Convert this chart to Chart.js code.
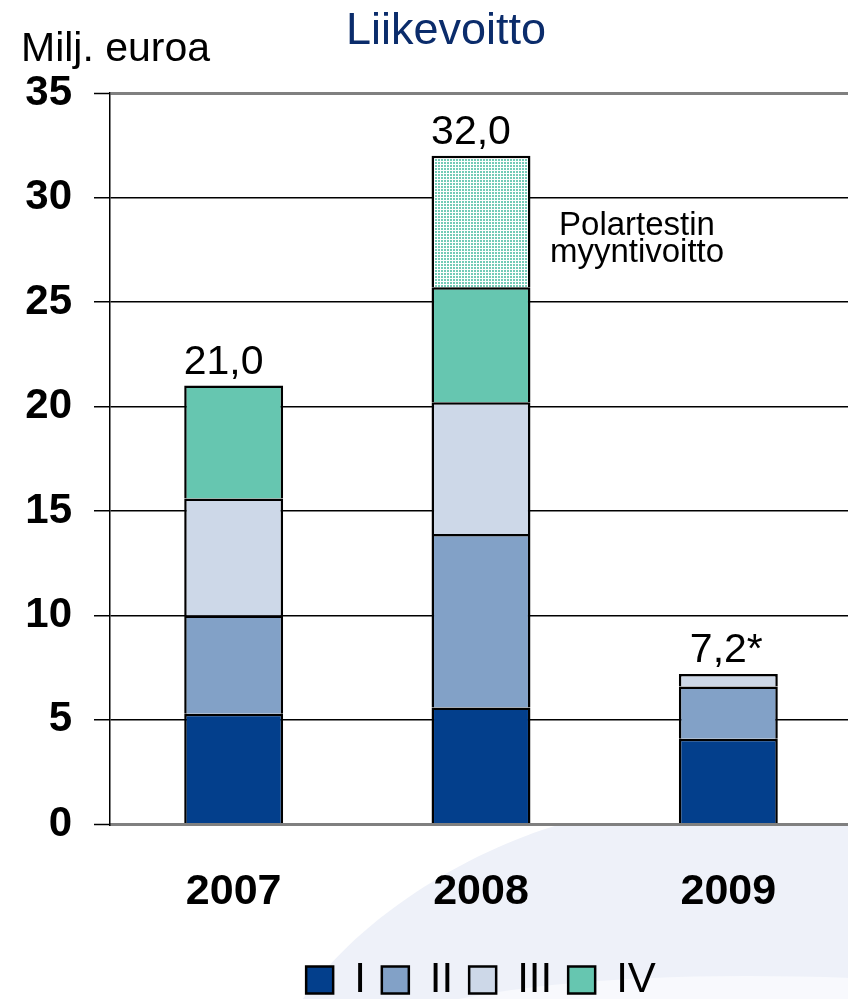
<!DOCTYPE html>
<html>
<head>
<meta charset="utf-8">
<script src="https://cdn.jsdelivr.net/npm/chart.js@4.4.1/dist/chart.umd.min.js"></script>
<style>
  html, body { margin: 0; padding: 0; overflow: hidden; background: #fff; }
  canvas { display: block; }
</style>
</head>
<body>
<canvas id="chart" width="852" height="1011"></canvas>
<script>
// data
const years = ['2007', '2008', '2009'];
const q1 = [5.3, 5.6, 4.1];
const q2 = [4.7, 8.3, 2.5];
const q3 = [5.6, 6.3, 0.6];
const q4 = [5.4, 5.5, null];
const polartest = [null, 6.3, null];
const totalMarks = ['', '', '*'];
const yTicks = [0, 5, 10, 15, 20, 25, 30, 35];

const FONT = '"Liberation Sans", Arial, sans-serif';

// dotted fill for the Polartest part
function dotPattern() {
  const tile = document.createElement('canvas');
  tile.width = 3;
  tile.height = 3;
  const t = tile.getContext('2d');
  t.fillStyle = '#fff';
  t.fillRect(0, 0, 3, 3);
  t.fillStyle = '#74cbb7';
  t.fillRect(0, 0, 2, 2);
  return document.getElementById('chart').getContext('2d').createPattern(tile, 'repeat');
}

// light swoosh behind the chart
const background = {
  id: 'background',
  beforeDraw(chart) {
    const { ctx, width, height, chartArea } = chart;
    ctx.save();
    ctx.fillStyle = '#fff';
    ctx.fillRect(0, 0, width, height);
    ctx.fillStyle = '#eef1f9';
    ctx.beginPath();
    ctx.moveTo(560, chartArea.bottom);
    ctx.bezierCurveTo(470, 850, 350, 920, 295, height);
    ctx.lineTo(width, height);
    ctx.lineTo(width, chartArea.bottom);
    ctx.closePath();
    ctx.fill();
    ctx.fillStyle = '#f8f9fd';
    ctx.beginPath();
    ctx.moveTo(410, height);
    ctx.quadraticCurveTo(560, 968, width, 978);
    ctx.lineTo(width, height);
    ctx.closePath();
    ctx.fill();
    ctx.restore();
  }
};

// texts: unit, title, totals, Polartest note
const annotations = {
  id: 'annotations',
  afterDraw(chart) {
    const { ctx } = chart;
    const x = chart.scales.x;
    const y = chart.scales.y;
    ctx.save();
    ctx.textBaseline = 'alphabetic';

    ctx.fillStyle = '#000';
    ctx.font = '41px ' + FONT;
    ctx.textAlign = 'left';
    ctx.fillText('Milj. euroa', 21, 61);

    ctx.fillStyle = '#0b2c6b';
    ctx.font = '45px ' + FONT;
    ctx.textAlign = 'center';
    ctx.fillText('Liikevoitto', 446, 44);

    ctx.fillStyle = '#000';
    ctx.font = '41px ' + FONT;
    years.forEach(function (yr, i) {
      const total = [q1, q2, q3, q4, polartest].reduce((s, arr) => s + (arr[i] || 0), 0);
      const num = total.toFixed(1).replace('.', ',');
      const cx = x.getPixelForValue(i) - 10;
      const cy = y.getPixelForValue(total) - 12;
      ctx.textAlign = 'center';
      ctx.fillText(num, cx, cy);
      if (totalMarks[i]) {
        ctx.textAlign = 'left';
        ctx.fillText(totalMarks[i], cx + ctx.measureText(num).width / 2, cy);
      }
    });

    const i = 1;
    const base = q1[i] + q2[i] + q3[i] + q4[i];
    const mid = y.getPixelForValue(base + polartest[i] / 2);
    ctx.font = '33px ' + FONT;
    ctx.textAlign = 'center';
    ctx.fillText('Polartestin', x.getPixelForValue(i) + 156, mid + 13);
    ctx.fillText('myyntivoitto', x.getPixelForValue(i) + 156, mid + 40);
    ctx.restore();
  }
};

const ctx = document.getElementById('chart').getContext('2d');

const bar = {
  borderColor: '#000',
  borderWidth: 2.5,
  barPercentage: 0.4,
  categoryPercentage: 1,
};

const chart = new Chart(ctx, {
  type: 'bar',
  data: {
    labels: years,
    datasets: [
      Object.assign({ label: 'I', data: q1, backgroundColor: '#033f8c' }, bar),
      Object.assign({ label: 'II', data: q2, backgroundColor: '#82a1c7' }, bar),
      Object.assign({ label: 'III', data: q3, backgroundColor: '#cdd8e8' }, bar),
      Object.assign({ label: 'IV', data: q4, backgroundColor: '#66c6b0' }, bar),
      Object.assign({ label: 'Polartest', data: polartest, backgroundColor: dotPattern() }, bar),
    ]
  },
  options: {
    responsive: false,
    animation: false,
    layout: { padding: { top: 93, right: 0, bottom: 0, left: 0 } },
    plugins: {
      tooltip: { enabled: false },
      title: { display: false },
      legend: {
        position: 'bottom',
        fullSize: false,
        labels: {
          filter: (item) => item.datasetIndex < 4,
          boxWidth: 27,
          boxHeight: 27,
          padding: 16,
          color: '#000',
          font: { family: FONT, size: 42 },
        }
      }
    },
    scales: {
      x: {
        stacked: true,
        grid: { display: false, drawTicks: false },
        border: { display: true, color: '#808080', width: 3 },
        ticks: { color: '#000', padding: 42, font: { family: FONT, size: 43, weight: 'bold' } },
        afterFit: function (scale) { scale.height -= 17; }
      },
      y: {
        stacked: true,
        min: 0,
        max: 35,
        afterBuildTicks: function (scale) { scale.ticks = yTicks.map(v => ({ value: v })); },
        grid: {
          color: (c) => (c.tick && (c.tick.value === 0 || c.tick.value === 35)) ? '#808080' : '#000',
          lineWidth: (c) => (c.tick && (c.tick.value === 0 || c.tick.value === 35)) ? 3 : 1.5,
          tickColor: '#000',
          tickWidth: 1.5,
          tickLength: 16,
        },
        border: { display: true, color: '#000', width: 1.5 },
        ticks: { color: '#000', padding: 22, font: { family: FONT, size: 42, weight: 'bold' } },
        afterFit: function (scale) { scale.width = 110; }
      }
    }
  },
  plugins: [background, annotations]
});
</script>
</body>
</html>
